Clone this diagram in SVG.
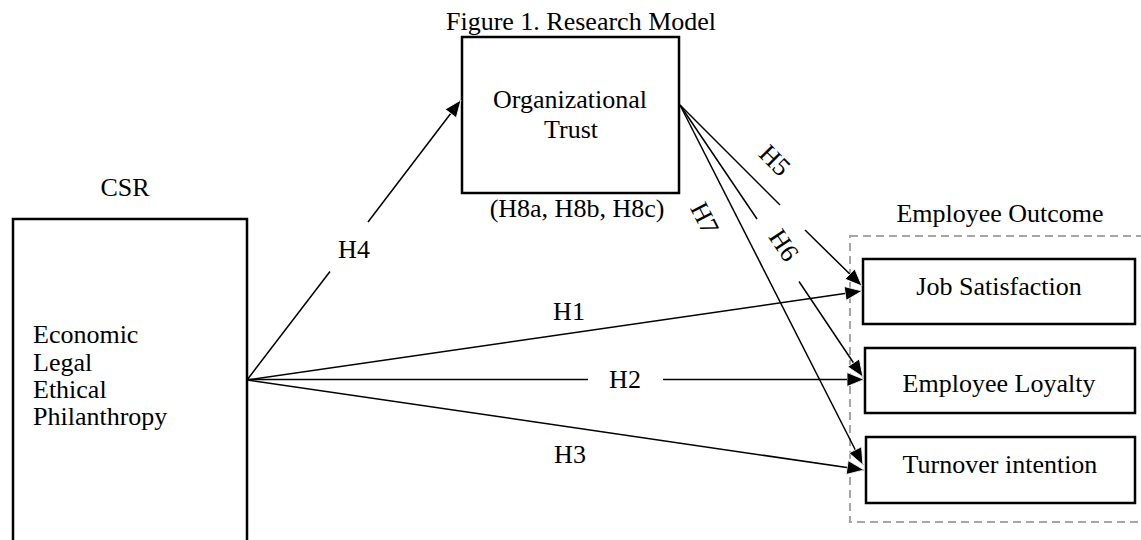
<svg xmlns="http://www.w3.org/2000/svg" width="1141" height="540" viewBox="0 0 1141 540">
<style>
text{font-family:"Liberation Serif","Times New Roman",serif;font-size:26px;fill:#000}
.c{text-anchor:middle}
.box{fill:#fff;stroke:#000;stroke-width:2.5}
.ln{stroke:#000;stroke-width:1.5;fill:none}
.dash{fill:none;stroke:#a6a6a6;stroke-width:2;stroke-dasharray:8 5}
</style>
<defs>
<marker id="ah" markerUnits="userSpaceOnUse" markerWidth="19" markerHeight="17" refX="17.5" refY="8" orient="auto">
<path d="M0.5,1 L17.5,8 L0.5,15 z" fill="#000" stroke="#fff" stroke-width="0.8"/>
</marker>
</defs>
<rect width="1141" height="540" fill="#fff"/>
<text class="c" x="581" y="30">Figure 1. Research Model</text>
<g id="employee-outcome">
<rect class="dash" x="850" y="236" width="300" height="286"/>
<text class="c" x="1000" y="222">Employee Outcome</text>
</g>
<g id="csr">
<text class="c" x="125" y="196">CSR</text>
<rect class="box" x="13" y="219" width="234" height="340"/>
<text x="33" y="343">Economic</text>
<text x="33" y="370.5">Legal</text>
<text x="33" y="398">Ethical</text>
<text x="33" y="425">Philanthropy</text>
</g>
<g id="org-trust">
<rect class="box" x="462" y="37" width="217" height="156"/>
<text class="c" x="570" y="108">Organizational</text>
<text class="c" x="571" y="138">Trust</text>
<text class="c" x="577" y="217">(H8a, H8b, H8c)</text>
</g>
<g id="job-satisfaction">
<rect class="box" x="863" y="259" width="272" height="65"/>
<text class="c" x="999" y="295">Job Satisfaction</text>
</g>
<g id="employee-loyalty">
<rect class="box" x="865" y="348" width="270" height="65"/>
<text class="c" x="999" y="392">Employee Loyalty</text>
</g>
<g id="turnover-intention">
<rect class="box" x="866" y="437" width="269" height="66"/>
<text class="c" x="1000" y="473">Turnover intention</text>
</g>
<g id="connectors">
<line class="ln" x1="247" y1="380" x2="330" y2="271.5"/>
<line class="ln" x1="368" y1="222" x2="461" y2="100" marker-end="url(#ah)"/>
<text class="c" x="354" y="258">H4</text>
<line class="ln" x1="247" y1="380" x2="862" y2="291" marker-end="url(#ah)"/>
<text class="c" x="569" y="320">H1</text>
<line class="ln" x1="247" y1="379.5" x2="588" y2="379.5"/>
<line class="ln" x1="663" y1="379.5" x2="864" y2="379.5" marker-end="url(#ah)"/>
<text class="c" x="625" y="388">H2</text>
<line class="ln" x1="247" y1="380" x2="864" y2="470" marker-end="url(#ah)"/>
<text class="c" x="570" y="463">H3</text>
<line class="ln" x1="680" y1="105" x2="780" y2="205"/>
<line class="ln" x1="805" y1="230" x2="862" y2="286" marker-end="url(#ah)"/>
<text class="c" transform="translate(775,160) rotate(45)" dy="9">H5</text>
<line class="ln" x1="680" y1="105" x2="757" y2="219"/>
<line class="ln" x1="799" y1="281.5" x2="863" y2="377" marker-end="url(#ah)"/>
<text class="c" transform="translate(784,245) rotate(56)" dy="9">H6</text>
<line class="ln" x1="680" y1="105" x2="863" y2="465" marker-end="url(#ah)"/>
<text class="c" transform="translate(705,218) rotate(63)" dy="9">H7</text>
</g>
</svg>
